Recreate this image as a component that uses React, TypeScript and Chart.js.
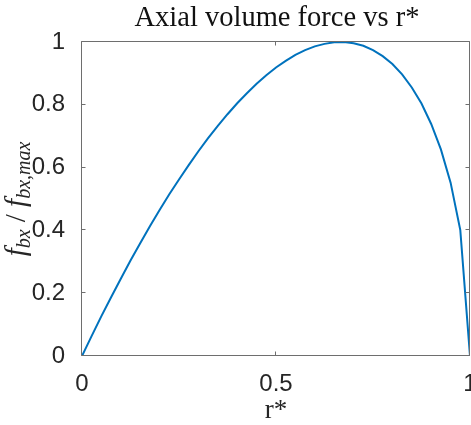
import React, { useEffect, useRef } from "react";
import { Chart, registerables } from "chart.js";

Chart.register(...registerables);

// Normalised axial body force sampled along the radius
const rStar = [
  0, 0.025, 0.05, 0.075, 0.1, 0.125, 0.15, 0.175, 0.2, 0.225, 0.25, 0.275, 0.3,
  0.325, 0.35, 0.375, 0.4, 0.425, 0.45, 0.475, 0.5, 0.525, 0.55, 0.575, 0.6,
  0.625, 0.65, 0.675, 0.7, 0.725, 0.75, 0.775, 0.8, 0.825, 0.85, 0.875, 0.9,
  0.925, 0.95, 0.975, 1,
];
const forceRatio = [
  0, 0.064, 0.127, 0.187, 0.246, 0.304, 0.359, 0.413, 0.465, 0.515, 0.562,
  0.608, 0.652, 0.694, 0.733, 0.77, 0.805, 0.837, 0.867, 0.894, 0.919, 0.94,
  0.959, 0.974, 0.986, 0.994, 0.999, 1.0, 0.996, 0.988, 0.974, 0.955, 0.93,
  0.897, 0.855, 0.804, 0.739, 0.658, 0.552, 0.401, 0,
];
const xTickValues = [0, 0.5, 1];
const yTickValues = [0, 0.2, 0.4, 0.6, 0.8, 1];
const chartTitle = "Axial volume force vs r*";
const xAxisLabel = "r*";

const WIDTH = 471;
const HEIGHT = 425;
const AXIS_COLOR = "#6e6e6e";
const TEXT_COLOR = "#262626";
const LINE_COLOR = "#0072BD";
const SANS = "'Liberation Sans', Arial, Helvetica, sans-serif";
const SERIF = "'Liberation Serif', 'Times New Roman', serif";
const TICK_LEN = 4;

const fmt = (v: number) => String(v);

// Box around the plot area with inward tick marks on all four sides, plus text labels
const framePlugin = {
  id: "frame",
  afterDatasetsDraw(chart: any) {
    const { ctx, chartArea: a, scales } = chart;
    const xs = scales.x;
    const ys = scales.y;
    ctx.save();
    ctx.strokeStyle = AXIS_COLOR;
    ctx.lineWidth = 1;
    const L = Math.round(a.left) - 0.5;
    const R = Math.round(a.right) - 0.5;
    const T = Math.round(a.top) - 0.5;
    const B = Math.round(a.bottom) - 0.5;
    ctx.beginPath();
    ctx.rect(L, T, R - L, B - T);
    for (const v of xTickValues) {
      const px = Math.round(xs.getPixelForValue(v)) - 0.5;
      ctx.moveTo(px, B);
      ctx.lineTo(px, B - TICK_LEN);
      ctx.moveTo(px, T);
      ctx.lineTo(px, T + TICK_LEN);
    }
    for (const v of yTickValues) {
      const py = Math.round(ys.getPixelForValue(v)) - 0.5;
      ctx.moveTo(L, py);
      ctx.lineTo(L + TICK_LEN, py);
      ctx.moveTo(R, py);
      ctx.lineTo(R - TICK_LEN, py);
    }
    ctx.stroke();

    const cx = (a.left + a.right) / 2;
    const cy = (a.top + a.bottom) / 2;

    // title
    ctx.fillStyle = "#111";
    ctx.textAlign = "center";
    ctx.textBaseline = "alphabetic";
    ctx.font = `28.5px ${SERIF}`;
    ctx.fillText(chartTitle, cx + 1, 26);

    // x axis label
    ctx.fillStyle = TEXT_COLOR;
    ctx.font = `27px ${SERIF}`;
    ctx.fillText(xAxisLabel, cx, 418);

    // y axis label: f_bx / f_bx,max
    const main = `italic 29px ${SERIF}`;
    const upright = `29px ${SERIF}`;
    const sub = `italic 20px ${SERIF}`;
    const parts = [
      { t: "f", f: main, dy: 0 },
      { t: "bx", f: sub, dy: 5 },
      { t: " / ", f: upright, dy: 0 },
      { t: "f", f: main, dy: 0 },
      { t: "bx,max", f: sub, dy: 5 },
    ];
    let total = 0;
    const widths = parts.map((p) => {
      ctx.font = p.f;
      const w = ctx.measureText(p.t).width;
      total += w;
      return w;
    });
    ctx.translate(25, cy);
    ctx.rotate(-Math.PI / 2);
    ctx.textAlign = "left";
    let x = -total / 2;
    parts.forEach((p, i) => {
      ctx.font = p.f;
      ctx.fillText(p.t, x, p.dy);
      x += widths[i];
    });
    ctx.restore();
  },
};

export default function App() {
  const canvasRef = useRef<HTMLCanvasElement | null>(null);

  useEffect(() => {
    document.body.style.margin = "0";
    document.body.style.overflow = "hidden";
    const canvas = canvasRef.current;
    if (!canvas) return;
    const points = rStar.map((r, i) => ({ x: r, y: forceRatio[i] }));
    const tickFont = { family: SANS, size: 24 };
    const chart = new Chart(canvas, {
      type: "line",
      data: {
        datasets: [
          {
            data: points,
            borderColor: LINE_COLOR,
            borderWidth: 2,
            pointRadius: 0,
            fill: false,
            tension: 0,
          },
        ],
      },
      options: {
        animation: false,
        responsive: false,
        devicePixelRatio: 1,
        events: [],
        layout: { padding: { top: 42, right: 1, bottom: 0, left: 0 } },
        plugins: {
          legend: { display: false },
          tooltip: { enabled: false },
          title: { display: false },
        },
        scales: {
          x: {
            type: "linear",
            min: 0,
            max: 1,
            grid: { display: false },
            border: { display: false },
            ticks: {
              padding: 6,
              color: TEXT_COLOR,
              font: tickFont,
              maxRotation: 0,
              autoSkip: false,
              callback: (v: any) => fmt(Number(v)),
            },
            afterBuildTicks: (s: any) => {
              s.ticks = xTickValues.map((value) => ({ value }));
            },
            afterFit: (s: any) => {
              s.height = 69;
              s.paddingLeft = 0;
              s.paddingRight = 0;
            },
          },
          y: {
            type: "linear",
            min: 0,
            max: 1,
            grid: { display: false },
            border: { display: false },
            ticks: {
              padding: 9,
              color: TEXT_COLOR,
              font: tickFont,
              autoSkip: false,
              callback: (v: any) => fmt(Number(v)),
            },
            afterBuildTicks: (s: any) => {
              s.ticks = yTickValues.map((value) => ({ value }));
            },
            afterFit: (s: any) => {
              s.width = 82;
              s.paddingTop = 0;
              s.paddingBottom = 0;
            },
          },
        },
      },
      plugins: [framePlugin],
    } as any);
    return () => chart.destroy();
  }, []);

  return (
    <canvas
      ref={canvasRef}
      width={WIDTH}
      height={HEIGHT}
      style={{ display: "block", width: WIDTH, height: HEIGHT }}
    />
  );
}
